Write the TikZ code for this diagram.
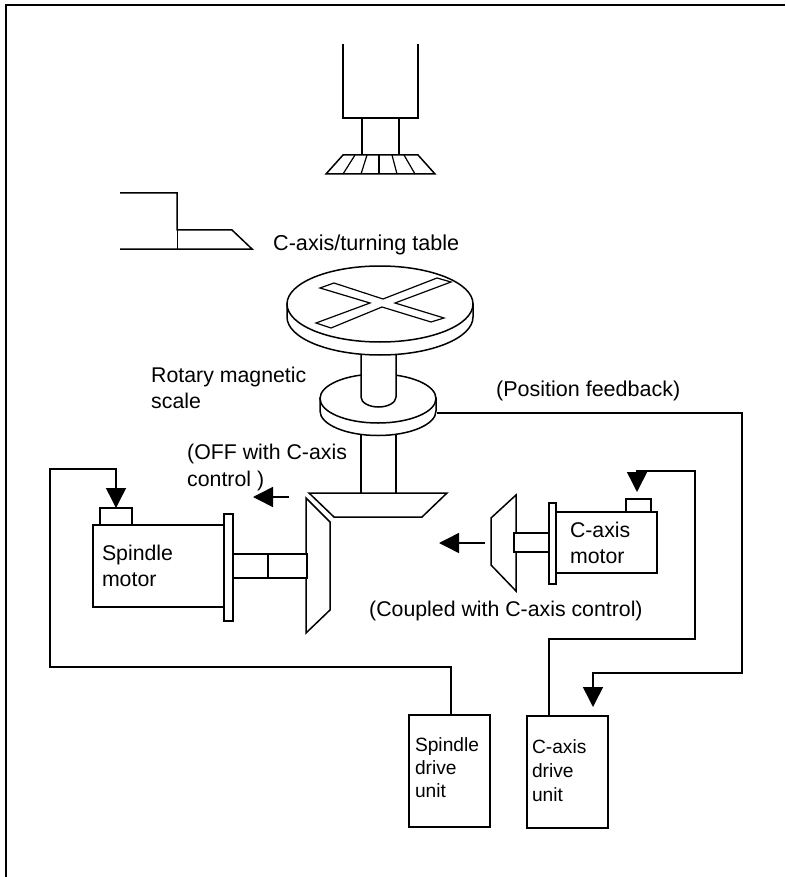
\documentclass[tikz,border=0pt]{standalone}
\usepackage{fontspec}
\setmainfont{Liberation Sans}
\usetikzlibrary{arrows.meta}

\begin{document}
\begin{tikzpicture}[
    x=1pt, y=-1pt,
    >={Triangle[length=20pt, width=20pt]},
    every node/.style={font=\fontsize{21.3}{26}\selectfont},
    part/.style={draw, line width=1.5pt, line join=miter, fill=white},
    unitbox/.style={draw, fill=white, line width=1.5pt, outer sep=0pt, align=left},
    sensorbox/.style={draw, fill=white, line width=1.5pt, outer sep=0pt, minimum height=#1},
    sensorbox/.default=16pt,
    wire/.style={draw, line width=1.5pt, line join=miter},
    caption/.style={anchor=west, align=left, inner sep=0pt}
]
\useasboundingbox (0,0) rectangle (785,877);

\draw[line width=1.8pt] (6,877) -- (6,5) -- (785,5);

\draw[part, fill=none] (343,44) -- (343,118) -- (418,118) -- (418,44);
\draw[part, fill=none] (362,118) -- (362,155);
\draw[part, fill=none] (399,118) -- (399,155);
\draw[part, fill=none] (343,155) -- (418,155) -- (435,174) -- (326,174) -- cycle;
\foreach \upx/\lowx in {355/343, 367/361, 379/379, 392/397, 404/415}
    \draw[line width=1.2pt] (\upx,155) -- (\lowx,174);

\draw[part, fill=none] (120,193) -- (177,193) -- (177,230) -- (232,230) -- (252,249) -- (120,249);
\draw[line width=0.7pt] (177,230) -- (177,249);

\node[caption, font=\fontsize{21.6}{26}\selectfont] (tablelabel) at (273,245) {C-axis/turning table};

\draw[part] (361,430) rectangle (396,495);
\draw[part] (320,398) -- (320,411) arc[start angle=180, end angle=0, x radius=58, y radius=24.5] -- (436,398) -- cycle;
\draw[part] (378,398.5) ellipse[x radius=58, y radius=24.5];
\draw[part] (361,345) -- (361,397) arc[start angle=180, end angle=0, x radius=17.5, y radius=10] -- (396,345) -- cycle;

\draw[part] (287,304) -- (287,317) arc[start angle=180, end angle=0, x radius=93, y radius=38] -- (473,304) -- cycle;
\draw[part] (380,304) ellipse[x radius=93, y radius=38];
\draw[line width=1.2pt] (320,288) -- (334,283) -- (383,299) -- (437,278) -- (451,282) -- (395,303) -- (444,318) -- (431,322) -- (382,307) -- (331,328) -- (316,323) -- (370,303) -- cycle;

\node[caption] (scalelabel) at (151,388) {Rotary magnetic\\scale};
\node[caption, font=\fontsize{21.5}{26}\selectfont] (feedbacklabel) at (496,391) {(Position feedback)};
\node[caption, font=\fontsize{21.3}{27}\selectfont] (offlabel) at (187,467) {(OFF with C-axis\\control )};
\node[caption] (coupledlabel) at (369,611) {(Coupled with C-axis control)};

\draw[part] (309,493) -- (447,493) -- (422,517) -- (334,517) -- cycle;
\draw[part] (306,498) -- (330,522) -- (330,610) -- (306,633) -- cycle;
\draw[part] (491,518) -- (516,495) -- (516,591) -- (491,565) -- cycle;

\draw[part] (233,554) rectangle (307,578);
\draw[part] (268,554) -- (268,578);
\draw[part] (514,533) rectangle (550,552);

\node[unitbox, minimum width=131pt, minimum height=82pt, inner xsep=9pt, text width=113pt] (spindlemotor) at (158.5,566) {Spindle\\motor};
\node[unitbox, minimum width=101pt, minimum height=61pt, inner xsep=14pt, text width=73pt] (caxismotor) at (606.5,542.5) {C-axis\\motor};
\node[sensorbox, minimum width=9pt, minimum height=107pt] (spindleflange) at (228.5,567.5) {};
\node[sensorbox, minimum width=7pt, minimum height=81pt] (caxisflange) at (552.5,543.5) {};
\node[sensorbox=17pt, minimum width=32pt] (spindlesensor) at (116,516.5) {};
\node[sensorbox=13pt, minimum width=25pt] (caxissensor) at (638.5,505.5) {};

\node[unitbox, minimum width=81pt, minimum height=112pt, inner xsep=6pt, text width=69pt, text depth=53pt, font=\fontsize{19.2}{23}\selectfont] (spindledrive) at (449.5,771) {Spindle\\drive\\unit};
\node[unitbox, minimum width=81pt, minimum height=112pt, inner xsep=5pt, text width=71pt, text depth=50pt, font=\fontsize{19.2}{24}\selectfont] (caxisdrive) at (567.5,772) {C-axis\\drive\\unit};

\coordinate (scaleport) at (437,413);
\coordinate (offstart) at (289,497);
\coordinate (offend) at (253,497);
\coordinate (coupledstart) at (485,543);
\coordinate (coupledend) at (439,543);

\draw[wire, ->] ([xshift=1.5pt]spindledrive.north) -- (451,667) -- (50,667) -- (50,469) -- (116,469) -- (spindlesensor.north);
\draw[wire, ->, shorten >=7pt] ([xshift=-18.5pt]caxisdrive.north) -- (549,639) -- (695,639) -- (695,471) -- (637,471) -- ([xshift=-1.5pt]caxissensor.north);
\draw[wire, ->, shorten >=9pt] (scaleport) -- (742,413) -- (742,673) -- (593,673) -- ([xshift=25.5pt]caxisdrive.north);
\draw[wire, ->] (offstart) -- (offend);
\draw[wire, ->] (coupledstart) -- (coupledend);

\end{tikzpicture}
\end{document}
